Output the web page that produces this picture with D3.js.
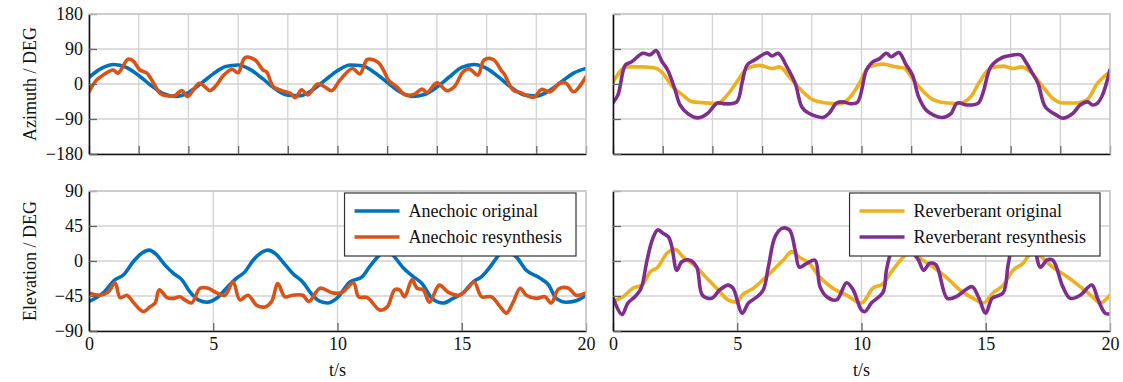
<!DOCTYPE html>
<html>
<head>
<meta charset="utf-8">
<script src="https://cdn.jsdelivr.net/npm/d3@7"></script>
<style>
  body { margin: 0; background: #fff; }
  text { font-family: "Liberation Serif", "Times New Roman", serif; }
</style>
</head>
<body>
<svg id="chart" width="1123" height="382"></svg>
<script>
// ---- data ----
const xTicksTop = [0, 2, 4, 6, 8, 10, 12, 14, 16, 18, 20];
const xTicksBottom = [0, 5, 10, 15, 20];
const azTicks = [-180, -90, 0, 90, 180];
const elTicks = [-90, -45, 0, 45, 90];

// azimuth, anechoic
const anaOrigAzT = [0,0.5,1,1.5,2,2.5,3,3.5,4,4.5,5,5.5,6,6.5,7,7.5,8,8.5,9,9.5,10,10.5,11,11.5,12,12.5,13,13.5,14,14.5,15,15.5,16,16.5,17,17.5,18,18.5,19,19.5,20];
const anaOrigAz = [17,40,50,43,22,-4,-25,-32,-22,1,26,45,49,37,13,-13,-29,-30,-15,10,34,49,47,29,4,-20,-32,-27,-8,18,43,50,40,17,-9,-28,-31,-18,5,28,40];
const anaResAzT = [0,0.3,0.57,0.97,1.17,1.57,1.77,2.05,2.33,2.6,2.86,3.2,3.45,3.73,3.97,4.2,4.43,4.63,4.87,5.14,5.4,5.75,6.0,6.28,6.68,7.0,7.15,7.42,7.76,8.1,8.3,8.56,8.8,9.2,9.5,9.77,10.1,10.6,10.9,11.2,11.6,11.85,12.05,12.4,12.7,13.1,13.4,13.6,14.0,14.4,14.7,15.05,15.3,15.65,15.9,16.27,16.6,16.7,17.06,17.35,17.9,18.2,18.55,18.95,19.2,19.5,20];
const anaResAz = [-20,10,23,36,28,64,60,36,28,2,-24,-31,-30,-17,-32,-15,2,-5,-17,-2,21,38,29,68,62,36,31,-7,-17,-24,-35,-15,-28,0,-8,-17,10,40,26,63,57,36,10,-8,-27,-26,-13,-22,3,-17,-7,31,39,23,62,63,34,27,-15,-22,-34,-14,-20,2,2,-20,19];

// azimuth, reverberant
const revOrigAzT = [0,0.55,1.1,1.7,2.0,2.4,2.8,3.2,3.6,4.2,4.6,4.98,5.4,5.9,6.4,6.7,7.1,7.5,8.05,8.6,9.1,9.5,9.9,10.3,10.85,11.4,11.7,12.1,12.5,12.9,13.45,13.9,14.4,14.7,15.2,15.7,16.1,16.45,16.8,17.3,17.7,18.1,18.7,19.1,19.5,20];
const revOrigAz = [5,44,44,41,28,-7,-28,-46,-48,-50,-28,5,40,48,40,44,18,-11,-41,-49,-51,-37,0,44,51,44,41,10,-20,-41,-49,-50,-33,0,41,46,40,44,31,-7,-37,-49,-49,-39,2,31];
const revResAzT = [0,0.2,0.5,0.75,1.2,1.5,1.73,1.97,2.2,2.5,2.7,3.03,3.43,3.8,4.2,4.5,4.98,5.2,5.4,5.7,6.2,6.4,6.65,7.0,7.33,7.6,7.85,8.46,8.7,9.0,9.24,9.6,9.85,10.2,10.45,10.7,11.0,11.2,11.5,11.8,12.05,12.3,12.6,12.9,13.25,13.6,13.85,14.25,14.7,14.9,15.2,15.6,15.9,16.4,16.6,16.8,17.1,17.4,17.85,18.1,18.5,18.8,19.1,19.3,19.5,19.7,20];
const revResAz = [-48,-28,49,57,79,75,86,58,36,-15,-54,-77,-87,-76,-49,-51,-46,5,49,62,80,72,79,44,2,-59,-74,-86,-75,-49,-46,-51,-46,36,57,64,79,70,81,49,23,-33,-67,-80,-86,-76,-49,-54,-49,-20,44,66,72,75,58,36,2,-59,-80,-88,-76,-54,-46,-54,-49,-28,36];

// elevation, anechoic
const anaOrigElT = [0,0.57,1.05,1.38,1.78,2.12,2.43,2.72,3.05,3.4,3.73,4.07,4.4,4.74,5.13,5.53,5.94,6.27,6.6,7.0,7.2,7.48,7.9,8.2,8.6,9.0,9.3,9.6,9.97,10.5,11.0,11.3,11.7,12.0,12.3,12.65,13.05,13.4,13.8,14.25,14.65,15.05,15.45,15.8,16.2,16.5,16.75,17.2,17.6,18.15,18.5,18.8,19.2,19.6,20];
const anaOrigEl = [-52,-41,-24,-18,-1,10,14,8,-5,-16,-24,-40,-50,-53,-48,-35,-22,-14,1,12,14,10,-5,-16,-27,-44,-52,-54,-48,-27,-20,-7,8,14,5,-9,-20,-29,-48,-54,-48,-41,-27,-20,-5,8,14,5,-12,-22,-31,-48,-53,-51,-44];
const anaResElT = [0,0.44,0.77,1.05,1.25,1.53,1.78,2.18,2.45,2.66,2.83,3.14,3.4,3.66,3.86,4.13,4.47,4.8,5.14,5.47,5.8,6.07,6.4,6.75,7.08,7.35,7.6,7.88,8.2,8.6,8.85,9.3,9.8,10.2,10.64,10.85,11.2,11.7,12.0,12.3,12.5,12.7,13.0,13.2,13.45,13.7,14.1,14.45,14.9,15.25,15.5,15.8,16.2,16.55,16.8,17.07,17.35,17.6,18.0,18.35,18.6,18.9,19.3,19.6,20];
const anaResEl = [-41,-44,-40,-28,-47,-44,-53,-65,-59,-54,-37,-47,-48,-46,-50,-54,-35,-35,-41,-44,-27,-50,-44,-57,-59,-52,-29,-46,-44,-44,-52,-35,-41,-40,-28,-46,-47,-63,-59,-37,-37,-46,-24,-35,-37,-53,-31,-40,-44,-35,-27,-46,-46,-59,-67,-53,-35,-44,-48,-46,-54,-36,-35,-44,-41];

// elevation, reverberant
const revOrigElT = [0,0.4,0.8,1.17,1.5,1.8,2.17,2.5,2.83,3.37,3.77,4.17,4.63,4.98,5.2,5.65,6.04,6.44,6.85,7.2,7.5,7.9,8.3,8.85,9.4,10.0,10.46,10.87,11.2,11.6,12.0,12.3,12.9,13.45,13.95,14.5,14.9,15.3,15.7,16.1,16.5,16.9,17.2,17.7,18.27,18.8,19.3,19.6,20];
const revOrigEl = [-52,-46,-35,-31,-14,-8,10,15,5,-8,-22,-35,-50,-53,-44,-35,-24,-12,1,12,5,-3,-20,-35,-44,-54,-35,-29,-14,2,13,5,-8,-22,-37,-48,-54,-41,-31,-12,-3,12,6,-8,-20,-33,-46,-54,-44];
const revResElT = [0,0.36,0.6,0.88,1.1,1.2,1.37,1.6,1.8,2.0,2.23,2.37,2.57,2.77,3.1,3.37,3.6,3.97,4.3,4.63,4.83,5.2,5.45,5.8,6.05,6.25,6.52,6.8,7.1,7.33,7.5,7.8,8.13,8.33,8.6,9.0,9.4,9.66,10.0,10.14,10.4,10.87,11.0,11.2,11.45,11.65,11.85,12.05,12.15,12.3,12.5,12.75,13.0,13.45,13.8,14.45,14.7,15.0,15.26,15.7,15.9,16.1,16.4,16.6,16.83,16.97,17.2,17.46,17.7,18.1,18.4,18.8,19.27,19.5,19.8,20];
const revResEl = [-47,-69,-54,-46,-37,-28,1,29,40,36,31,18,-12,-1,1,-8,-44,-48,-37,-31,-35,-67,-54,-46,-37,-8,31,42,40,14,-8,-3,1,-33,-46,-50,-28,-37,-63,-65,-54,-40,-12,14,35,40,37,20,8,1,-12,-3,-5,-48,-46,-33,-46,-67,-48,-41,-5,23,40,36,31,18,-8,1,1,-33,-48,-44,-31,-48,-67,-68];

const colors = { anaOrig: "#0072BD", anaRes: "#D95319", revOrig: "#EDB120", revRes: "#7E2F8E" };

// ---- layout ----
const svg = d3.select("#chart");
const panelW = 497, panelH = 140;
const lefts = [89, 613], tops = [14, 191];

const zip = (ts, vs) => ts.map((t, i) => [t, vs[i]]);

function drawPanel(opts) {
  const x = d3.scaleLinear().domain([0, 20]).range([opts.left, opts.left + panelW]);
  const y = d3.scaleLinear().domain(opts.yDomain).range([opts.top + panelH, opts.top]);
  const g = svg.append("g");

  // grid
  g.append("g").selectAll("line").data(opts.xTicks).enter().append("line")
    .attr("x1", d => x(d)).attr("x2", d => x(d))
    .attr("y1", opts.top).attr("y2", opts.top + panelH)
    .attr("stroke", "#d2d2d2").attr("stroke-width", 1.3);
  g.append("g").selectAll("line").data(opts.yTicks).enter().append("line")
    .attr("x1", opts.left).attr("x2", opts.left + panelW)
    .attr("y1", d => y(d)).attr("y2", d => y(d))
    .attr("stroke", "#d2d2d2").attr("stroke-width", 1.3);

  // lines
  const clipId = "clip" + opts.left + "_" + opts.top;
  svg.append("clipPath").attr("id", clipId).append("rect")
    .attr("x", opts.left).attr("y", opts.top).attr("width", panelW).attr("height", panelH);
  const line = d3.line().x(d => x(d[0])).y(d => y(d[1]));
  opts.series.forEach(s => {
    g.append("path").datum(zip(s.t, s.v))
      .attr("clip-path", "url(#" + clipId + ")")
      .attr("fill", "none").attr("stroke", s.color).attr("stroke-width", 3.6)
      .attr("stroke-linejoin", "round").attr("stroke-linecap", "round")
      .attr("d", line.curve(s.smooth ? d3.curveMonotoneX : d3.curveCatmullRom.alpha(0.5)));
  });

  // axes
  const ax = g.append("g").attr("transform", "translate(0," + (opts.top + panelH) + ")")
    .call(d3.axisBottom(x).tickValues(opts.xTicks).tickSizeInner(-8).tickSizeOuter(0).tickPadding(6)
      .tickFormat(opts.xLabels ? d3.format("d") : ""));
  const ay = g.append("g").attr("transform", "translate(" + opts.left + ",0)")
    .call(d3.axisLeft(y).tickValues(opts.yTicks).tickSizeInner(-8).tickSizeOuter(0).tickPadding(6)
      .tickFormat(opts.yLabels ? d3.format("d") : ""));
  [ax, ay].forEach(a => {
    a.attr("font-family", null);
    a.select(".domain").attr("stroke", "#111").attr("stroke-width", 1.6);
    a.selectAll(".tick line").attr("stroke", "#666").attr("stroke-width", 1.3);
    a.selectAll(".tick text").attr("font-size", 18).attr("fill", "#111");
  });

  // legend
  if (opts.legend) {
    const lg = g.append("g");
    const box = lg.append("rect").attr("fill", "#fff").attr("stroke", "#333").attr("stroke-width", 1.2);
    const texts = opts.legend.map((s, i) => {
      const yy = opts.top + 20 + i * 26;
      lg.append("line").attr("y1", yy).attr("y2", yy).attr("stroke", s.color).attr("stroke-width", 3.6)
        .attr("class", "sample");
      return lg.append("text").attr("y", yy + 6).attr("font-size", 18).attr("fill", "#111").text(s.label);
    });
    const tw = d3.max(texts, t => t.node().getComputedTextLength());
    const boxW = 10 + 45 + 9 + tw + 14;
    const bx = opts.left + panelW - 10 - boxW;
    box.attr("x", bx).attr("y", opts.top + 2).attr("width", boxW).attr("height", 63);
    lg.selectAll("line.sample").attr("x1", bx + 10).attr("x2", bx + 55);
    texts.forEach(t => t.attr("x", bx + 64));
  }
}

drawPanel({ left: lefts[0], top: tops[0], yDomain: [-180, 180], yTicks: azTicks, xTicks: xTicksTop,
  xLabels: false, yLabels: true,
  series: [
    { t: anaOrigAzT, v: anaOrigAz, color: colors.anaOrig, smooth: true },
    { t: anaResAzT, v: anaResAz, color: colors.anaRes }
  ] });
drawPanel({ left: lefts[1], top: tops[0], yDomain: [-180, 180], yTicks: azTicks, xTicks: xTicksTop,
  xLabels: false, yLabels: false,
  series: [
    { t: revOrigAzT, v: revOrigAz, color: colors.revOrig, smooth: true },
    { t: revResAzT, v: revResAz, color: colors.revRes }
  ] });
drawPanel({ left: lefts[0], top: tops[1], yDomain: [-90, 90], yTicks: elTicks, xTicks: xTicksBottom,
  xLabels: true, yLabels: true,
  series: [
    { t: anaOrigElT, v: anaOrigEl, color: colors.anaOrig, smooth: true },
    { t: anaResElT, v: anaResEl, color: colors.anaRes }
  ],
  legend: [
    { label: "Anechoic original", color: colors.anaOrig },
    { label: "Anechoic resynthesis", color: colors.anaRes }
  ] });
drawPanel({ left: lefts[1], top: tops[1], yDomain: [-90, 90], yTicks: elTicks, xTicks: xTicksBottom,
  xLabels: true, yLabels: false,
  series: [
    { t: revOrigElT, v: revOrigEl, color: colors.revOrig, smooth: true },
    { t: revResElT, v: revResEl, color: colors.revRes }
  ],
  legend: [
    { label: "Reverberant original", color: colors.revOrig },
    { label: "Reverberant resynthesis", color: colors.revRes }
  ] });

// top / right frame in grid colour
[[0, 0], [1, 0], [0, 1], [1, 1]].forEach(([i, j]) => {
  svg.append("path")
    .attr("d", "M" + lefts[i] + "," + tops[j] + "H" + (lefts[i] + panelW) + "V" + (tops[j] + panelH))
    .attr("fill", "none").attr("stroke", "#c8c8c8").attr("stroke-width", 1.4);
});

// axis titles
svg.append("text").attr("transform", "translate(30," + (tops[0] + panelH / 2) + ") rotate(-90)")
  .attr("text-anchor", "middle").attr("dy", "0.35em").attr("font-size", 18).attr("fill", "#111")
  .text("Azimuth / DEG");
svg.append("text").attr("transform", "translate(30," + (tops[1] + panelH / 2) + ") rotate(-90)")
  .attr("text-anchor", "middle").attr("dy", "0.35em").attr("font-size", 18).attr("fill", "#111")
  .text("Elevation / DEG");
lefts.forEach(l => {
  svg.append("text").attr("x", l + panelW / 2).attr("y", 376).attr("text-anchor", "middle")
    .attr("font-size", 18).attr("fill", "#111").text("t/s");
});
</script>
</body>
</html>
